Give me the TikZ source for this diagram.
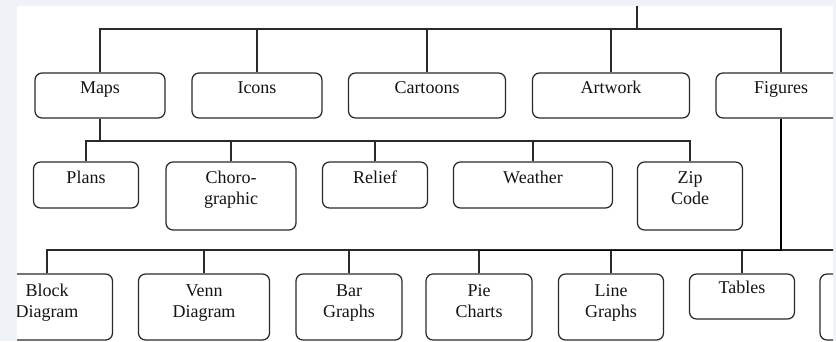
\documentclass[tikz,border=0pt]{standalone}
\usepackage{fontspec}
\setmainfont{Liberation Serif}
\definecolor{pagebg}{HTML}{EFF3F8}
\definecolor{ink}{HTML}{2A2A2A}
\begin{document}
\begin{tikzpicture}[x=1pt,y=-1pt,
  box/.style={draw=ink, line width=1.25pt, rounded corners=7pt, fill=white, inner sep=0pt},
  lbl/.style={font=\fontsize{18}{21}\selectfont, align=center, inner sep=0pt, anchor=north, text=black!92},
  wire/.style={draw=ink, line width=1.2pt},
  heavy/.style={draw=black, line width=1.9pt},
]
% page and sheet
\fill[pagebg] (0,0) rectangle (836,341);
\fill[white] (17,6) rectangle (833,341);
\useasboundingbox (0,0) rectangle (836,341);
\begin{scope}
\clip (17,6) rectangle (833,341);

% ---- first level
\node[box, minimum width=130pt, minimum height=45pt] (maps)     at (100,95.5) {};
\node[box, minimum width=130pt, minimum height=45pt] (icons)    at (257,95.5) {};
\node[box, minimum width=157pt, minimum height=45pt] (cartoons) at (427,95.5) {};
\node[box, minimum width=157pt, minimum height=45pt] (artwork)  at (611,95.5) {};
\node[box, minimum width=130pt, minimum height=45pt] (figures)  at (781,95.5) {};

% ---- kinds of maps
\node[box, minimum width=105pt, minimum height=46pt] (plans)   at (86,185)  {};
\node[box, minimum width=130pt, minimum height=68pt] (choro)   at (231,196) {};
\node[box, minimum width=105pt, minimum height=46pt] (relief)  at (375,185) {};
\node[box, minimum width=159pt, minimum height=46pt] (weather) at (533,185) {};
\node[box, minimum width=105pt, minimum height=68pt] (zip)     at (690,196) {};

% ---- kinds of figures
\node[box, minimum width=131pt, minimum height=66pt] (block)  at (47,307)    {};
\node[box, minimum width=131pt, minimum height=66pt] (venn)   at (204,307)   {};
\node[box, minimum width=106pt, minimum height=66pt] (bar)    at (349,307)   {};
\node[box, minimum width=106pt, minimum height=66pt] (pie)    at (479,307)   {};
\node[box, minimum width=105pt, minimum height=66pt] (linegr) at (611,307)   {};
\node[box, minimum width=105pt, minimum height=45pt] (tables) at (742,296.5) {};
\node[box, minimum width=106pt, minimum height=66pt] (more)   at (873,307)   {};

% ---- labels
\node[lbl] (maps-t)     at ([yshift=-6.3pt]maps.north)     {\strut Maps};
\node[lbl] (icons-t)    at ([yshift=-6.3pt]icons.north)    {\strut Icons};
\node[lbl] (cartoons-t) at ([yshift=-6.3pt]cartoons.north) {\strut Cartoons};
\node[lbl] (artwork-t)  at ([yshift=-6.3pt]artwork.north)  {\strut Artwork};
\node[lbl] (figures-t)  at ([yshift=-6.3pt]figures.north)  {\strut Figures};

\node[lbl] (plans-t)   at ([yshift=-7.3pt]plans.north)   {\strut Plans};
\node[lbl] (choro-t)   at ([yshift=-7.3pt]choro.north)   {\strut Choro-\\graphic};
\node[lbl] (relief-t)  at ([yshift=-7.3pt]relief.north)  {\strut Relief};
\node[lbl] (weather-t) at ([yshift=-7.3pt]weather.north) {\strut Weather};
\node[lbl] (zip-t)     at ([yshift=-7.3pt]zip.north)     {\strut Zip\\Code};

\node[lbl] (block-t)  at ([yshift=-8.3pt]block.north)  {\strut Block\\Diagram};
\node[lbl] (venn-t)   at ([yshift=-8.3pt]venn.north)   {\strut Venn\\Diagram};
\node[lbl] (bar-t)    at ([yshift=-8.3pt]bar.north)    {\strut Bar\\Graphs};
\node[lbl] (pie-t)    at ([yshift=-8.3pt]pie.north)    {\strut Pie\\Charts};
\node[lbl] (linegr-t) at ([yshift=-8.3pt]linegr.north) {\strut Line\\Graphs};
\node[lbl] (tables-t) at ([yshift=-5.3pt]tables.north) {\strut Tables};

% ---- connectors
\coordinate (root) at (637,0);
\coordinate (bus1) at (637,29);
\coordinate (bus2) at (100,141);
\coordinate (bus3) at (781,250.5);

\draw[wire] (root) -- (bus1);
\draw[wire] (maps.north) -- (maps.north |- bus1) -| (figures.north);
\foreach \n in {icons,cartoons,artwork}
  \draw[wire] (\n.north) -- (\n.north |- bus1);

\draw[wire] (maps.south) -- (bus2);
\draw[wire] (plans.north) -- (plans.north |- bus2) -| (zip.north);
\foreach \n in {choro,relief,weather}
  \draw[wire] (\n.north) -- (\n.north |- bus2);

\draw[wire] (block.north) -- ([yshift=0.5pt]block.north |- bus3) -| (more.north);
\foreach \n in {venn,bar,pie,linegr,tables}
  \draw[wire] (\n.north) -- (\n.north |- bus3);
\draw[heavy] (figures.south) -- (bus3) -- (pie.north |- bus3);
\end{scope}
\end{tikzpicture}
\end{document}
